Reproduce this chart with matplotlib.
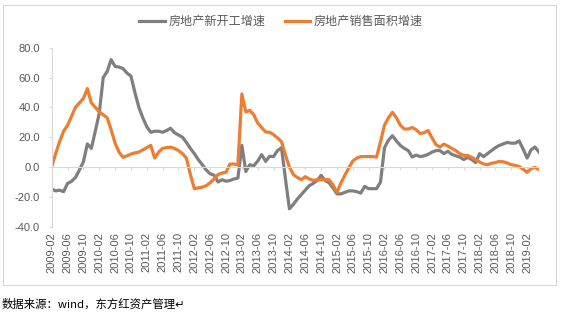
import numpy as np
import pandas as pd
import matplotlib
matplotlib.use("Agg")
import matplotlib.pyplot as plt
from matplotlib.patches import Rectangle

plt.rcParams['font.family'] = ['Liberation Sans', 'Noto Sans CJK SC', 'DejaVu Sans']

# monthly series, 2009-02 .. 2019-05 (cumulative yoy, %)
months = pd.period_range('2009-02', '2019-05', freq='M').strftime('%Y-%m').tolist()

new_starts = [
    -14.8, -16, -15.5, -16.5, -11, -9.6, -7, -2, 3.5, 15.5, 12.5, 24,
    36, 60, 64, 72, 67.5, 67, 66, 63, 61, 50, 40, 33,
    27, 23.3, 24, 24, 23.3, 24.5, 26, 23, 21.5, 20, 16.5, 12.5,
    9, 5, 1.6, -2, -4.5, -5.5, -10, -8.5, -9.5, -9, -8, -7.4,
    14.5, -3, 1.6, 0.8, 4, 8.3, 3.8, 7.2, 7, 11, 13, -8,
    -28, -25, -21.5, -18.5, -15.5, -12.5, -11, -9, -5.6, -9, -10.5, -14,
    -18, -18, -17, -16, -16, -16.5, -17.5, -13, -14.5, -14.5, -14.5, -10,
    13, 18, 21, 17.5, 14.5, 12.5, 11, 6.7, 8, 7, 7.5, 8.5,
    10, 11, 11, 9, 10.5, 8.5, 7.5, 6.7, 5, 6.5, 5, 3,
    9, 7, 9, 11, 13, 14.5, 15.5, 16.5, 16, 16, 17.5, 12,
    6, 11.6, 13.4, 10,
]

sales_area = [
    0, 9, 17, 24, 28, 34, 40, 43, 46, 52.6, 43, 40,
    37, 35, 33, 25, 16, 10, 6.5, 7.5, 8.7, 9.5, 10, 11.5,
    13, 14.5, 6, 10, 12.5, 13, 13.3, 12.5, 11, 9, 6, -5,
    -14.5, -14, -13.5, -12.5, -10.5, -8, -5, -4, -3.5, 2, 2, 1.5,
    49, 37, 38, 35, 29.5, 26.5, 23.5, 23.3, 21.7, 19.5, 17, 8,
    0, -5, -7, -8.5, -6.5, -8, -9, -8.5, -8.5, -8.5, -8.5, -12,
    -17, -10.7, -5.5, -0.5, 4, 6, 7, 7, 7, 7, 6.7, 17,
    28, 33, 36.7, 33, 28, 25.5, 25.5, 26.5, 25, 22.5, 23, 24.5,
    19.5, 15, 13.4, 15.4, 14, 12.5, 11, 9, 7.8, 7.8, 6.5, 5,
    3.4, 2, 1.6, 2.5, 3, 3.8, 3.5, 2.7, 1.6, 1.1, 0.4, -1.5,
    -3.6, -1.1, -0.2, -1.8,
]

labels = ['房地产新开工增速', '房地产销售面积增速']
yticks = [-40, -20, 0, 20, 40, 60, 80]

grey = '#7F7F7F'
orange = '#ED7D31'
txt = '#595959'
axc = '#D9D9D9'

fig = plt.figure(figsize=(5.62, 3.22), dpi=100)
W, H = 562, 322

# chart frame
fig.patches.append(Rectangle((3 / W, 1 - 285 / H), 553 / W, 280 / H,
                             transform=fig.transFigure, fill=False,
                             edgecolor=axc, lw=0.8))

ax = fig.add_axes([51.7 / W, 1 - 226.7 / H, (539 - 51.7) / W, 179 / H])
x = np.arange(len(months))
ax.plot(x, new_starts, color=grey, lw=2.3, label=labels[0], solid_joinstyle='round')
ax.plot(x, sales_area, color=orange, lw=2.3, label=labels[1], solid_joinstyle='round')

ax.set_xlim(0, len(months) - 1)
ax.set_ylim(-40, 80)
ax.set_yticks(yticks)
ax.set_yticklabels([f'{v:.1f}' for v in yticks], fontsize=8, color=txt)
ax.tick_params(axis='y', length=2.5, width=0.8, color=axc, pad=6)

for s in ['top', 'right']:
    ax.spines[s].set_visible(False)
ax.spines['left'].set_color(axc)
ax.spines['left'].set_linewidth(0.8)
ax.spines['bottom'].set_position(('data', 0))
ax.spines['bottom'].set_color(axc)
ax.spines['bottom'].set_linewidth(0.8)

tick_pos = x[::4]
ax.set_xticks(tick_pos)
ax.set_xticklabels([])
ax.tick_params(axis='x', length=2.5, width=0.8, color=axc)

sec = ax.secondary_xaxis('bottom')
sec.set_xticks(tick_pos)
sec.set_xticklabels([months[i] for i in tick_pos], rotation=90, fontsize=8, color=txt)
sec.tick_params(length=0, pad=4)
sec.spines['bottom'].set_visible(False)

fig.legend(loc='center', bbox_to_anchor=(281 / W, 1 - 22 / H), ncol=2,
           frameon=False, fontsize=8.7, labelcolor=txt, handlelength=2.1,
           handletextpad=0.3, columnspacing=1.6)

fig.text(2 / W, 1 - 304 / H, '数据来源：wind，东方红资产管理↵',
         fontsize=8.2, color='black', va='center', ha='left',
         family=['Noto Sans CJK SC', 'DejaVu Sans'])

fig.savefig('out.png', dpi=100)
